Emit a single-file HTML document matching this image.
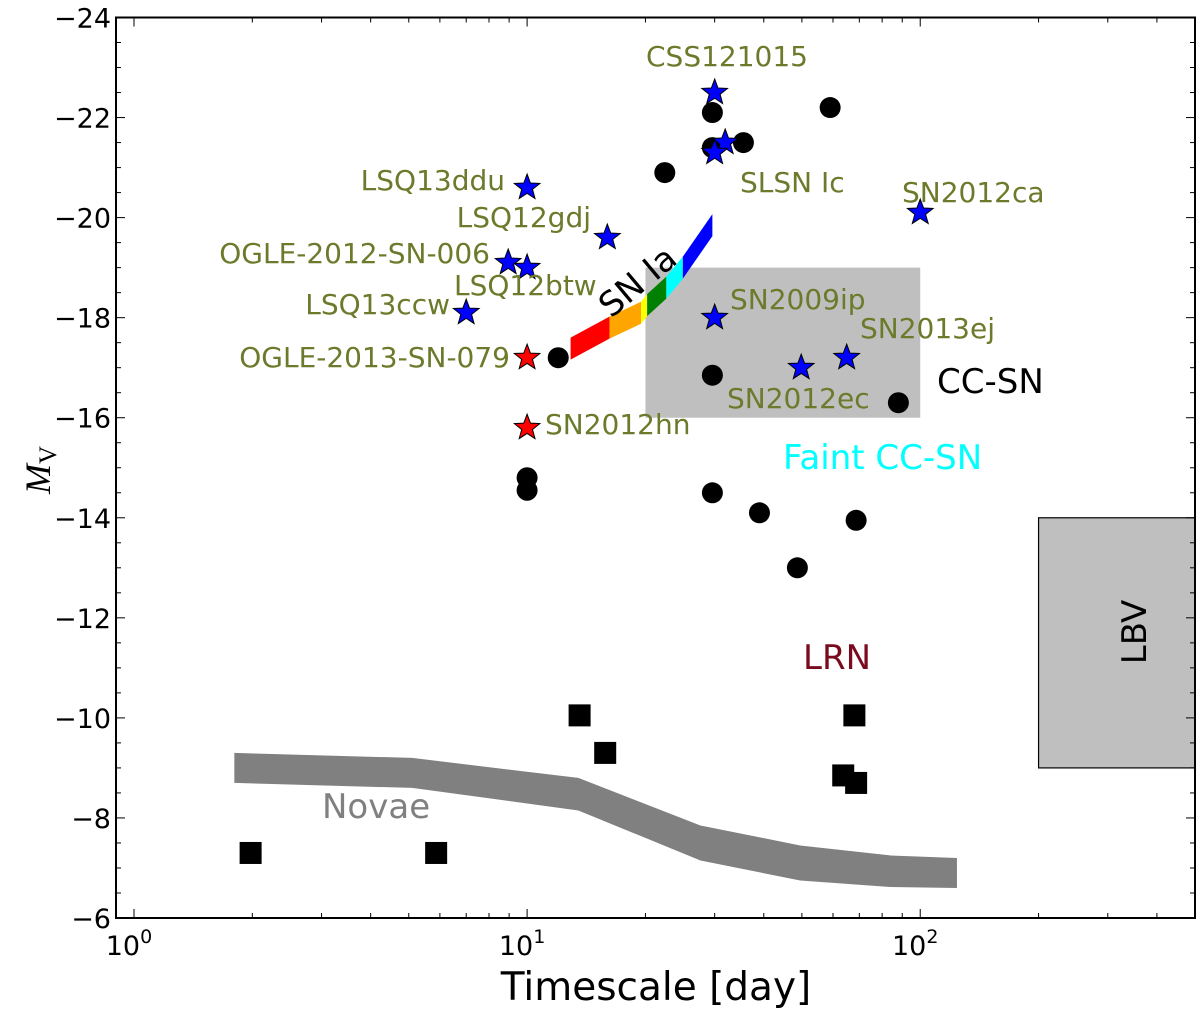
<!DOCTYPE html>
<html><head><meta charset="utf-8"><style>
body{margin:0;background:#fff}
svg{display:block;font-family:"DejaVu Sans","Liberation Sans",sans-serif}
</style></head><body>
<svg id="chart" width="1200" height="1010" viewBox="0 0 1200 1010" xmlns="http://www.w3.org/2000/svg">
<g id="bg"></g><g id="marks"></g><g id="axes"></g><g id="labels"></g>
</svg>
<script>
const circleX=[12.0,10,10,22.4,29.6,29.6,35.5,59,29.6,88,29.6,39,48.7,68.7];
const circleY=[-17.2,-14.8,-14.55,-20.9,-22.1,-21.4,-21.5,-22.2,-16.85,-16.3,-14.5,-14.1,-13.0,-13.95];
const blueStarX=[30,31.9,30,10,16,8.95,10,7,30,49.8,65,100];
const blueStarY=[-22.5,-21.5,-21.3,-20.6,-19.6,-19.1,-19.0,-18.1,-18.0,-17.0,-17.2,-20.1];
const redStarX=[10,10];
const redStarY=[-17.2,-15.8];
const squareX=[1.98,5.87,13.6,15.8,68,63.7,68.7];
const squareY=[-7.3,-7.3,-10.05,-9.3,-10.05,-8.85,-8.7];
const novaeX=[1.8,5.1,13.5,27.6,49.5,84,124];
const novaeTop=[-9.3,-9.2,-8.8,-7.85,-7.45,-7.25,-7.2];
const novaeBot=[-8.7,-8.6,-8.15,-7.15,-6.75,-6.62,-6.6];
const iaX=[12.9,16.2,19.5,20.2,22.6,24.9,29.6];
const iaY=[-17.38,-17.8,-18.1,-18.25,-18.6,-19.0,-19.85];
const iaColors=["red","orange","yellow","green","cyan","blue"];
const yTicks=[-24,-22,-20,-18,-16,-14,-12,-10,-8,-6];
const xTickExp=[0,1,2];
const XL=116,XR=1195,YT=17.5,YB=918;
const lmin=Math.log10(0.9),lmax=Math.log10(500);
const X=v=>XL+(Math.log10(v)-lmin)/(lmax-lmin)*(XR-XL);
const Y=v=>YT+(v-(-24))/18*(YB-YT);
const NS="http://www.w3.org/2000/svg";
function mk(tag,par,attrs){const e=document.createElementNS(NS,tag);for(const k in attrs)e.setAttribute(k,attrs[k]);document.getElementById(par).appendChild(e);return e;}
let r=mk('rect','bg',{x:X(20),y:Y(-19),width:X(100)-X(20),height:Y(-16)-Y(-19),fill:'#bfbfbf'});


r=mk('rect','bg',{x:X(200),y:Y(-14),width:X(500)-X(200),height:Y(-9)-Y(-14),fill:'#bfbfbf',stroke:'#000','stroke-width':1.2});


let pts=novaeX.map((x,i)=>X(x)+','+Y(novaeTop[i])).concat(novaeX.map((x,i)=>X(x)+','+Y(novaeBot[i])).reverse());
let p=mk('polygon','bg',{points:pts.join(' '),fill:'#808080'});


for(let i=0;i<iaColors.length;i++){
 const a=X(iaX[i]),b=X(iaX[i+1]);
 const pp=[a+','+(Y(iaY[i])-11),b+','+(Y(iaY[i+1])-11),b+','+(Y(iaY[i+1])+11),a+','+(Y(iaY[i])+11)];
 const s=mk('polygon','bg',{points:pp.join(' '),fill:iaColors[i]});
 
 
}
function star(cx,cy,R,fill){const q=[];for(let k=0;k<10;k++){const rr=k%2?R*0.42:R;const a=-Math.PI/2+k*Math.PI/5;q.push((cx+rr*Math.cos(a)).toFixed(1)+','+(cy+rr*Math.sin(a)).toFixed(1));}
 return mk('polygon','marks',{points:q.join(' '),fill:fill,stroke:'#000','stroke-width':1});}
circleX.forEach((x,i)=>{const c=mk('circle','marks',{cx:X(x),cy:Y(circleY[i]),r:10.5,fill:'#000'});
 
 });
squareX.forEach((x,i)=>{const c=mk('rect','marks',{x:X(x)-11,y:Y(squareY[i])-11,width:22,height:22,fill:'#000'});
 
 });
blueStarX.forEach((x,i)=>{const s=star(X(x),Y(blueStarY[i]),13.5,'#0000ff');
 
 });
redStarX.forEach((x,i)=>{const s=star(X(x),Y(redStarY[i]),13.5,'#ff0000');
 
 });
let f=mk('rect','axes',{x:XL,y:YT,width:XR-XL,height:YB-YT,fill:'none',stroke:'#000','stroke-width':2});


for(let v=-24;v<=-6;v+=0.5){const maj=(v%2===0);const L=maj?9:5;const y=Y(v);
 let t=mk('line','axes',{x1:XL,x2:XL+L,y1:y,y2:y,stroke:'#000','stroke-width':1});
 
 
 t=mk('line','axes',{x1:XR,x2:XR-L,y1:y,y2:y,stroke:'#000','stroke-width':1});
 
 }
for(let e=0;e<=2;e++)for(let m=1;m<=9;m++){const v=m*Math.pow(10,e);if(v>500)continue;const x=X(v);const L=m===1?9:5;
 let t=mk('line','axes',{x1:x,x2:x,y1:YB,y2:YB-L,stroke:'#000','stroke-width':1});
 
 
 t=mk('line','axes',{x1:x,x2:x,y1:YT,y2:YT+L,stroke:'#000','stroke-width':1});
 
 }
yTicks.forEach(v=>{const t=mk('text','labels',{x:XL-5,y:Y(v)+10,'text-anchor':'end','font-size':27});t.textContent='\u2212'+Math.abs(v);
 
 });
xTickExp.forEach(e=>{const t=mk('text','labels',{x:X(Math.pow(10,e))-5,y:YB+37,'text-anchor':'middle','font-size':27});
 t.innerHTML='10<tspan dy="-12" font-size="19">'+e+'</tspan>';
 
 });
const labs=[
['CSS121015',727,66,'middle','#6b7b2b',28,0,'label-css121015'],
['LSQ13ddu',505,190,'end','#6b7b2b',28,0,'label-lsq13ddu'],
['LSQ12gdj',591,227,'end','#6b7b2b',28,0,'label-lsq12gdj'],
['OGLE-2012-SN-006',490,263,'end','#6b7b2b',28,0,'label-ogle-2012'],
['LSQ12btw',454,295,'start','#6b7b2b',28,0,'label-lsq12btw'],
['LSQ13ccw',450,314,'end','#6b7b2b',28,0,'label-lsq13ccw'],
['OGLE-2013-SN-079',510,367,'end','#6b7b2b',28,0,'label-ogle-2013'],
['SN2012hn',545,434,'start','#6b7b2b',28,0,'label-sn2012hn'],
['SLSN Ic',740,192,'start','#6b7b2b',28,0,'label-slsn-ic'],
['SN2012ca',902,202,'start','#6b7b2b',28,0,'label-sn2012ca'],
['SN2009ip',730,309,'start','#6b7b2b',28,0,'label-sn2009ip'],
['SN2013ej',860,338,'start','#6b7b2b',28,0,'label-sn2013ej'],
['SN2012ec',727,408,'start','#6b7b2b',28,0,'label-sn2012ec'],
['CC-SN',937,393,'start','#000',34,0,'label-cc-sn'],
['Faint CC-SN',783,469,'start','#00ffff',34,0,'label-faint-cc-sn'],
['LRN',803,669,'start','#7a0a1e',34,0,'label-lrn'],
['Novae',322,818,'start','#808080',34,0,'label-novae'],
['LBV',1135,643,'middle','#000',34,-90,'label-lbv'],
['SN Ia',638,293,'middle','#000',34,-40,'label-sn-ia'],
['Timescale [day]',656,1000,'middle','#000',39,0,'x-axis-title']];
labs.forEach(l=>{const t=mk('text','labels',{x:l[1],y:l[2],'text-anchor':l[3],fill:l[4],'font-size':l[5]});
 if(l[6])t.setAttribute('transform','rotate('+l[6]+' '+l[1]+' '+(l[2]-11)+')');
 t.textContent=l[0];
 
 });
const yl=mk('text','labels',{x:50,y:470,'text-anchor':'middle','font-size':36,'font-style':'italic','font-family':'Liberation Serif, serif',transform:'rotate(-90 50 470)'});
yl.innerHTML='M<tspan font-size="25" dy="6" font-style="normal">V</tspan>';


</script>
</body></html>
